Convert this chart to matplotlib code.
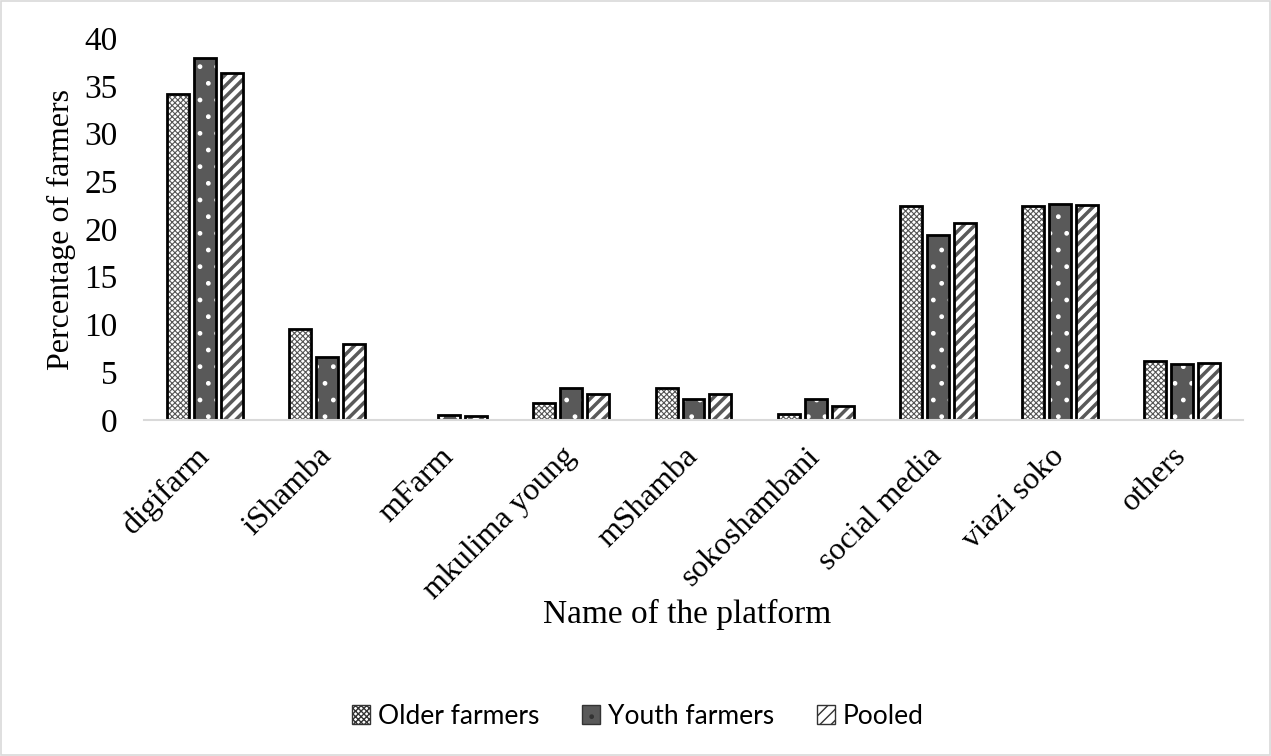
import matplotlib.pyplot as plt
import numpy as np
from matplotlib.patches import Rectangle

categories = ["digifarm", "iShamba", "mFarm", "mkulima young", "mShamba",
              "sokoshambani", "social media", "viazi soko", "others"]
older = [34.1, 9.5, 0.0, 1.8, 3.4, 0.6, 22.4, 22.4, 6.2]
youth = [37.9, 6.6, 0.5, 3.4, 2.2, 2.2, 19.4, 22.6, 5.9]
pooled = [36.3, 8.0, 0.4, 2.7, 2.7, 1.5, 20.6, 22.5, 6.0]
series_names = ["Older farmers", "Youth farmers", "Pooled"]

serif = ["Liberation Serif", "DejaVu Serif"]

fig = plt.figure(figsize=(12.71, 7.56), dpi=100)
ax = fig.add_axes([144 / 1271, 1 - 420 / 756, (1243 - 144) / 1271, (420 - 38) / 756])

x = np.arange(len(categories))
w = 0.18
step = 0.221

styles = [
    dict(face="white", hatch="xxxxxx", hcol="#555555", hlw=0.8),
    dict(face="#595959", hatch=".", hcol="white", hlw=1.0),
    dict(face="white", hatch="///", hcol="#595959", hlw=2.5),
]

for i, (vals, st) in enumerate(zip([older, youth, pooled], styles)):
    pos = x + (i - 1) * step
    with plt.rc_context({"hatch.linewidth": st["hlw"]}):
        ax.bar(pos, vals, w, color=st["face"], edgecolor=st["hcol"],
               hatch=st["hatch"], linewidth=0)
    ax.bar(pos, vals, w, color="none", edgecolor="black", linewidth=2)

ax.set_ylim(0, 40)
ax.set_xlim(-0.5, len(categories) - 0.5)
ax.set_yticks(range(0, 41, 5))
ax.set_xticks(x)
ax.set_xticklabels(categories, rotation=45, ha="right", va="center",
                   rotation_mode="anchor", fontsize=23, family=serif)
for lbl in ax.get_yticklabels():
    lbl.set_fontsize(24)
    lbl.set_family(serif)
ax.tick_params(axis="both", length=0)
ax.tick_params(axis="y", pad=19)
ax.tick_params(axis="x", pad=23)
for s in ["left", "top", "right"]:
    ax.spines[s].set_visible(False)
ax.spines["bottom"].set_color("#d9d9d9")
ax.spines["bottom"].set_linewidth(1.5)

ax.set_ylabel("Percentage of farmers", fontsize=23, family=serif, labelpad=6)
fig.text(687 / 1271, 1 - 614 / 756, "Name of the platform", fontsize=24,
         family=serif, ha="center", va="center")

# legend
handles = []
for st in styles:
    with plt.rc_context({"hatch.linewidth": st["hlw"] * 0.6}):
        handles.append(Rectangle((0, 0), 1, 1, facecolor=st["face"], edgecolor=st["hcol"],
                                 hatch=st["hatch"], linewidth=0))
leg = fig.legend(handles, series_names, loc="center", bbox_to_anchor=(638 / 1271, 1 - 716 / 756),
                 ncol=3, frameon=False, handlelength=0.7, handleheight=0.7,
                 handletextpad=0.3, columnspacing=1.6,
                 prop={"family": ["Lato", "DejaVu Sans"], "size": 19})
for h in leg.legend_handles:
    h.set_edgecolor("#333333")
    h.set_linewidth(1)

fig.patches.append(Rectangle((0.001, 0.001), 0.998, 0.998, transform=fig.transFigure,
                             fill=False, edgecolor="#d9d9d9", linewidth=1.2))

fig.savefig("out.png", dpi=100)
